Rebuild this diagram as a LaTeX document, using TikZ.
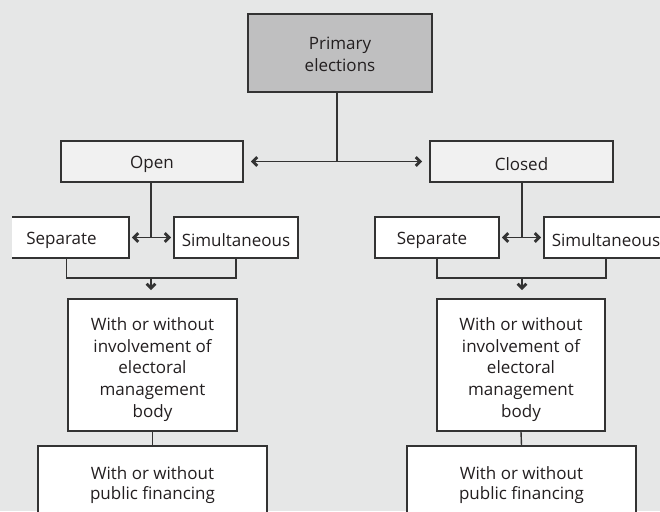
\documentclass[tikz,border=0pt]{standalone}
\usepackage{fontspec}
\setmainfont{Open Sans}
\usetikzlibrary{arrows.meta}
\definecolor{bg}{HTML}{E6E7E7}
\definecolor{dark}{HTML}{BFBFC0}
\definecolor{light}{HTML}{F1F1F1}
\definecolor{ln}{HTML}{333333}
\definecolor{tx}{HTML}{231F20}
\pgfdeclarearrow{
  name = Chev,
  setup code = {
    \pgfarrowssettipend{0pt}
    \pgfarrowssetlineend{-2pt}
    \pgfarrowssetbackend{-7pt}
    \pgfarrowshullpoint{0pt}{0pt}
    \pgfarrowsupperhullpoint{-7pt}{5.5pt}
  },
  drawing code = {
    \pgfsetlinewidth{2.9pt}
    \pgfsetmiterjoin
    \pgfsetbuttcap
    \pgfsetdash{}{0pt}
    \pgfpathmoveto{\pgfpoint{-6pt}{4.4pt}}
    \pgfpathlineto{\pgfpoint{-1.8pt}{0pt}}
    \pgfpathlineto{\pgfpoint{-6pt}{-4.4pt}}
    \pgfusepathqstroke
  }
}
\tikzset{
  box/.style={draw=ln, line width=1.4pt, fill=white, inner sep=0pt},
  lbl/.style={text=tx, align=center, inner sep=0pt, yshift=-3pt,
    font=\fontsize{17}{21.7}\selectfont},
  conn/.style={draw=ln, line width=1.4pt},
  tip/.style={-Chev},
  tips/.style={Chev-Chev}
}
\begin{document}
\begin{tikzpicture}[x=1pt,y=-1pt]
\useasboundingbox (0,0) rectangle (660,511);
\fill[bg] (0,0) rectangle (660,511);
\begin{scope}
\clip (12,0) rectangle (660,511);
\node[box, fill=dark, minimum width=184pt, minimum height=78pt,
  label={[lbl, yshift=1.5pt]center:{Primary\\elections}}] (prim) at (340,53) {};
\node[box, fill=light, minimum width=182pt, minimum height=41pt,
  label={[lbl]center:Open}] (open) at (152,161.5) {};
\node[box, fill=light, minimum width=183pt, minimum height=41pt,
  label={[lbl]center:Closed}] (closed) at (521.5,161.5) {};
\node[box, minimum width=125pt, minimum height=41pt,
  label={[lbl, xshift=-5pt]center:Separate}] (sepa) at (66.5,237.5) {};
\node[box, minimum width=124pt, minimum height=41pt,
  label={[lbl]center:Simultaneous}] (sima) at (236,237.5) {};
\node[box, minimum width=124pt, minimum height=41pt,
  label={[lbl, xshift=-5pt]center:Separate}] (sepb) at (437,237.5) {};
\node[box, minimum width=124pt, minimum height=41pt,
  label={[lbl]center:Simultaneous}] (simb) at (606,237.5) {};
\node[box, minimum width=169pt, minimum height=132pt,
  label={[lbl, yshift=-1.5pt]center:{With or without\\involvement of\\electoral\\management\\body}}] (emba) at (152.5,365) {};
\node[box, minimum width=168pt, minimum height=132pt,
  label={[lbl, yshift=-1.5pt]center:{With or without\\involvement of\\electoral\\management\\body}}] (embb) at (521,365) {};
\node[box, minimum width=229pt, minimum height=72pt,
  label={[lbl, font=\fontsize{17}{20.7}\selectfont]center:{With or without\\public financing}}] (fina) at (152.5,482) {};
\node[box, minimum width=229pt, minimum height=72pt,
  label={[lbl, font=\fontsize{17}{20.7}\selectfont]center:{With or without\\public financing}}] (finb) at (521.5,482) {};

\coordinate (j0) at (337,162);
\coordinate (ja) at (151,238);
\coordinate (jb) at (522,238);
\coordinate (ba) at (151,278);
\coordinate (bb) at (522,278);

\draw[conn] (prim.south -| j0) -- (j0);
\draw[conn, tips, shorten <=7.5pt, shorten >=7.5pt] (open.east) -- (closed.west);

\draw[conn] (open.south -| ja) -- (ja);
\draw[conn, tips, shorten <=2.5pt, shorten >=2.5pt] (sepa.east) -- (sima.west);
\draw[conn] (sepa.south) -- (sepa.south |- ba) -- (sima.south |- ba) -- (sima.south);
\draw[conn, tip, shorten >=8.5pt] (ba) -- (emba.north -| ba);
\draw[conn] (emba.south) -- (fina.north);

\draw[conn] (closed.south -| jb) -- (jb);
\draw[conn, tips, shorten <=2.5pt, shorten >=2.5pt] (sepb.east) -- (simb.west);
\draw[conn] (sepb.south) -- (sepb.south |- bb) -- (simb.south |- bb) -- (simb.south);
\draw[conn, tip, shorten >=8.5pt] (bb) -- (embb.north -| bb);
\draw[conn] (embb.south) -- (finb.north);
\end{scope}
\end{tikzpicture}
\end{document}
